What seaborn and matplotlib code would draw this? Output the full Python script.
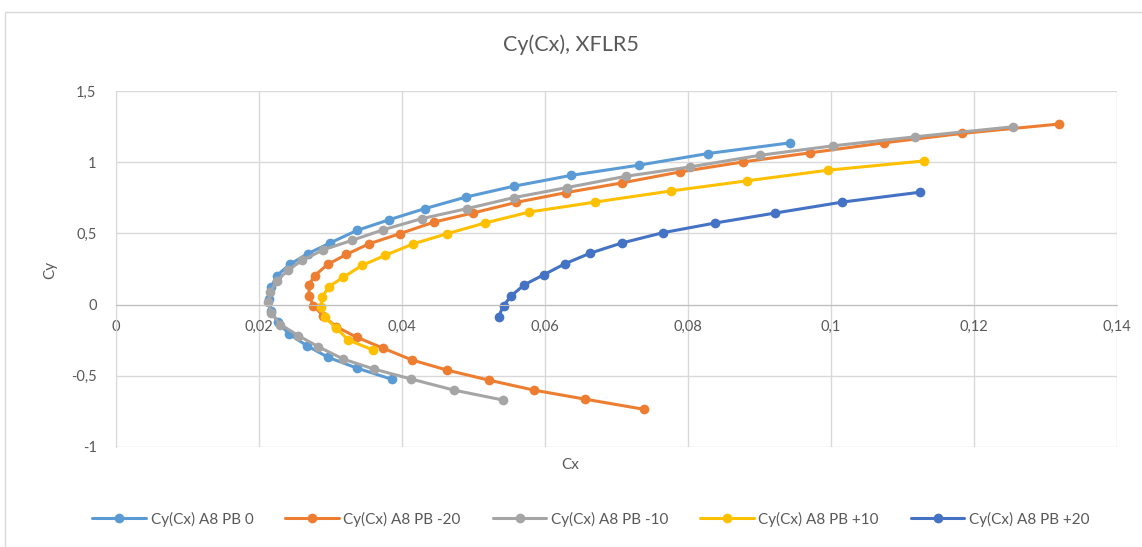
import matplotlib
matplotlib.use("Agg")
import matplotlib.pyplot as plt
import matplotlib.ticker as mticker
from matplotlib.patches import Rectangle
import seaborn as sns
import pandas as pd

# ---- data ----
series_names = ["Cy(Cx) A8 PB 0", "Cy(Cx) A8 PB -20", "Cy(Cx) A8 PB -10",
                "Cy(Cx) A8 PB +10", "Cy(Cx) A8 PB +20"]
series_colors = ["#5B9BD5", "#ED7D31", "#A5A5A5", "#FFC000", "#4472C4"]

cx_pb0 = [0.0943, 0.0828, 0.0731, 0.0637, 0.0556, 0.0490, 0.0432, 0.0382, 0.0337, 0.0299, 0.0268,
          0.0243, 0.0225, 0.0217, 0.0214, 0.0217, 0.0226, 0.0242, 0.0267, 0.0297, 0.0337, 0.0386]
cy_pb0 = [1.136, 1.061, 0.979, 0.908, 0.831, 0.756, 0.674, 0.596, 0.521, 0.432, 0.357,
          0.282, 0.204, 0.122, 0.040, -0.042, -0.124, -0.206, -0.289, -0.371, -0.446, -0.525]

cx_pbm20 = [0.1319, 0.1183, 0.1074, 0.0971, 0.0877, 0.0789, 0.0707, 0.0629, 0.0560, 0.0499, 0.0445,
            0.0397, 0.0354, 0.0322, 0.0296, 0.0278, 0.0270, 0.0270, 0.0276, 0.0290, 0.0308, 0.0337,
            0.0373, 0.0414, 0.0463, 0.0521, 0.0585, 0.0656, 0.0738]
cy_pbm20 = [1.268, 1.202, 1.136, 1.066, 1.002, 0.932, 0.854, 0.786, 0.718, 0.643, 0.580,
            0.498, 0.427, 0.352, 0.282, 0.204, 0.141, 0.063, -0.007, -0.080, -0.155, -0.230,
            -0.305, -0.389, -0.460, -0.530, -0.601, -0.664, -0.735]

cx_pbm10 = [0.1255, 0.1117, 0.1003, 0.0901, 0.0803, 0.0713, 0.0631, 0.0556, 0.0491, 0.0428, 0.0374,
            0.0330, 0.0290, 0.0260, 0.0240, 0.0225, 0.0216, 0.0213, 0.0217, 0.0230, 0.0255, 0.0283,
            0.0318, 0.0361, 0.0413, 0.0473, 0.0541]
cy_pbm10 = [1.249, 1.178, 1.115, 1.049, 0.967, 0.901, 0.822, 0.751, 0.674, 0.604, 0.526,
            0.451, 0.385, 0.310, 0.240, 0.165, 0.090, 0.020, -0.060, -0.140, -0.218, -0.296,
            -0.383, -0.453, -0.523, -0.601, -0.670]

cx_pbp10 = [0.1130, 0.0996, 0.0882, 0.0776, 0.0670, 0.0578, 0.0516, 0.0463, 0.0416, 0.0376,
            0.0344, 0.0318, 0.0298, 0.0288, 0.0287, 0.0292, 0.0308, 0.0325, 0.0360]
cy_pbp10 = [1.009, 0.944, 0.869, 0.798, 0.720, 0.650, 0.573, 0.498, 0.427, 0.345,
            0.275, 0.192, 0.127, 0.051, -0.020, -0.089, -0.164, -0.249, -0.320]

cx_pbp20 = [0.1124, 0.1016, 0.0922, 0.0838, 0.0765, 0.0707, 0.0663, 0.0628, 0.0598, 0.0571,
            0.0553, 0.0542, 0.0535]
cy_pbp20 = [0.789, 0.720, 0.643, 0.573, 0.505, 0.432, 0.361, 0.287, 0.209, 0.139,
            0.063, -0.007, -0.085]

x_ticks = [0, 0.02, 0.04, 0.06, 0.08, 0.10, 0.12, 0.14]
y_ticks = [-1, -0.5, 0, 0.5, 1, 1.5]

# ---- build long table ----
frames = []
for name, cx, cy in zip(series_names,
                        [cx_pb0, cx_pbm20, cx_pbm10, cx_pbp10, cx_pbp20],
                        [cy_pb0, cy_pbm20, cy_pbm10, cy_pbp10, cy_pbp20]):
    frames.append(pd.DataFrame({"Cx": cx, "Cy": cy, "series": name}))
df = pd.concat(frames, ignore_index=True)

sns.set_style("white")
plt.rcParams["font.family"] = ["Lato", "DejaVu Sans"]

fig = plt.figure(figsize=(11.42, 5.47), dpi=100)
ax = fig.add_axes([116/1142, 1-447/547, (1117-116)/1142, (447-91)/547])

sns.lineplot(data=df, x="Cx", y="Cy", hue="series", hue_order=series_names,
             palette=dict(zip(series_names, series_colors)), sort=False,
             estimator=None, marker="o", markersize=7, markeredgewidth=0,
             linewidth=2.2, ax=ax, legend=True)

ax.set_xlim(0, 0.14)
ax.set_ylim(-1, 1.5)
ax.set_xticks(x_ticks)
ax.set_yticks(y_ticks)

def comma_fmt(v, pos):
    s = ("%g" % round(v, 4)).replace(".", ",")
    return s

ax.xaxis.set_major_formatter(mticker.FuncFormatter(comma_fmt))
ax.yaxis.set_major_formatter(mticker.FuncFormatter(comma_fmt))

ax.grid(True, color="#D9D9D9", linewidth=1)
ax.set_axisbelow(True)
for s in ["top", "right"]:
    ax.spines[s].set_visible(False)
ax.spines["left"].set_color("#D9D9D9")
ax.spines["bottom"].set_color("#BFBFBF")
ax.spines["bottom"].set_position(("data", 0))
ax.tick_params(axis="both", length=0, labelsize=10.5, labelcolor="#595959")
ax.tick_params(axis="x", pad=11)
ax.tick_params(axis="y", pad=14)

ax.set_xlabel("")
ax.set_ylabel("")
fig.text(570/1142, 1-465/547, "Cx", ha="center", va="center", fontsize=11, color="#595959")
fig.text(50/1142, 1-270/547, "Cy", ha="center", va="center", rotation=90, fontsize=11, color="#595959")
fig.text(571/1142, 1-45/547, "Cy(Cx), XFLR5", ha="center", va="center", fontsize=15.5, color="#595959")

handles, labels = ax.get_legend_handles_labels()
ax.get_legend().remove()
fig.legend(handles, labels, loc="center", bbox_to_anchor=(591/1142, 1-519/547), ncol=5,
           frameon=False, fontsize=11, labelcolor="#595959", handlelength=3.5,
           columnspacing=2.1, handletextpad=0.3)

fig.patches.append(Rectangle((5/1142, -0.05), 1.1, 1-12/547+0.05, transform=fig.transFigure,
                             fill=False, edgecolor="#D9D9D9", linewidth=1))

fig.savefig("out.png", dpi=100)
